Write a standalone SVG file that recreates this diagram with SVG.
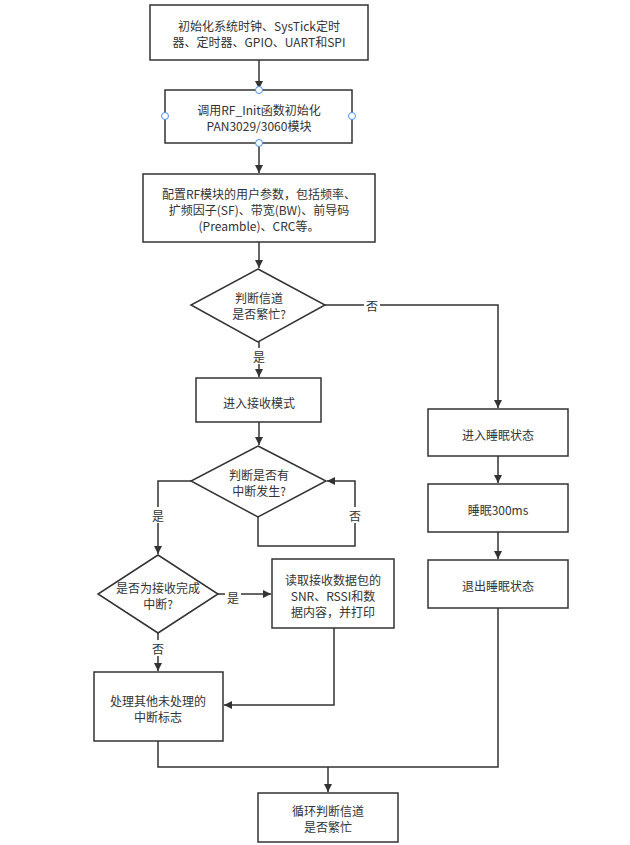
<svg xmlns="http://www.w3.org/2000/svg" width="630" height="845" viewBox="0 0 630 845">
<style>
.box{fill:#fff;stroke:#333;stroke-width:1.5}
.t{font-family:"Noto Sans CJK SC","Noto Sans",sans-serif;font-size:12px;fill:#333;text-anchor:middle;dominant-baseline:central}
.c{fill:none;stroke:#333;stroke-width:1.5}
.lbl{fill:#fff}
.h{fill:#fff;stroke:#4a90e2;stroke-width:1}
</style>
<defs>
<marker id="a" markerWidth="8" markerHeight="8" refX="8" refY="4" orient="auto" markerUnits="userSpaceOnUse">
<path d="M0,0 L8,4 L0,8 Z" fill="#333"/>
</marker>
</defs>
<rect width="630" height="845" fill="#fff"/>
<g id="connectors">
<path class="c" d="M259,60 V89" marker-end="url(#a)"/>
<path class="c" d="M259,143 V173" marker-end="url(#a)"/>
<path class="c" d="M259,242 V268" marker-end="url(#a)"/>
<path class="c" d="M259,342 V377" marker-end="url(#a)"/>
<path class="c" d="M325,305 H498 V408" marker-end="url(#a)"/>
<path class="c" d="M259,422 V445" marker-end="url(#a)"/>
<path class="c" d="M191,481 H158 V554" marker-end="url(#a)"/>
<path class="c" d="M258,517 V546 H355 V481 H327" marker-end="url(#a)"/>
<path class="c" d="M218,594 H271" marker-end="url(#a)"/>
<path class="c" d="M158,633 V671" marker-end="url(#a)"/>
<path class="c" d="M334,628 V705 H224" marker-end="url(#a)"/>
<path class="c" d="M498,456 V483" marker-end="url(#a)"/>
<path class="c" d="M498,532 V559" marker-end="url(#a)"/>
<path class="c" d="M158,741 V767 H498 V608"/>
<path class="c" d="M328,767 V792" marker-end="url(#a)"/>
<rect class="lbl" x="364" y="297" width="16" height="16"/>
<text class="t" x="372" y="305">否</text>
<rect class="lbl" x="251" y="348" width="16" height="16"/>
<text class="t" x="259" y="356">是</text>
<rect class="lbl" x="150" y="507" width="16" height="16"/>
<text class="t" x="158" y="515">是</text>
<rect class="lbl" x="347" y="507" width="16" height="16"/>
<text class="t" x="355" y="515">否</text>
<rect class="lbl" x="225" y="589" width="16" height="16"/>
<text class="t" x="233" y="597">是</text>
<rect class="lbl" x="150" y="640" width="16" height="16"/>
<text class="t" x="158" y="648">否</text>
</g>
<g id="n1">
<rect class="box" x="150" y="5" width="218" height="55"/>
<text class="t" x="259" y="25">初始化系统时钟、SysTick定时</text>
<text class="t" x="259" y="41">器、定时器、GPIO、UART和SPI</text>
</g>
<g id="n2">
<rect class="box" x="165" y="90" width="187" height="53"/>
<text class="t" x="259" y="109">调用RF_Init函数初始化</text>
<text class="t" x="259" y="125">PAN3029/3060模块</text>
<circle class="h" cx="259" cy="90" r="3.5"/>
<circle class="h" cx="259" cy="143" r="3.5"/>
<circle class="h" cx="165" cy="116" r="3.5"/>
<circle class="h" cx="352" cy="116" r="3.5"/>
</g>
<g id="n3">
<rect class="box" x="143" y="174" width="232" height="68"/>
<text class="t" x="259" y="193">配置RF模块的用户参数，包括频率、</text>
<text class="t" x="259" y="209">扩频因子(SF)、带宽(BW)、前导码</text>
<text class="t" x="259" y="225">(Preamble)、CRC等。</text>
</g>
<g id="d1">
<polygon class="box" points="258,269 325,305 258,342 191,305"/>
<text class="t" x="259" y="297">判断信道</text>
<text class="t" x="259" y="313">是否繁忙?</text>
</g>
<g id="n4">
<rect class="box" x="196" y="378" width="125" height="44"/>
<text class="t" x="259" y="402">进入接收模式</text>
</g>
<g id="d2">
<polygon class="box" points="258,446 326,481 258,517 191,481"/>
<text class="t" x="259" y="474">判断是否有</text>
<text class="t" x="259" y="490">中断发生?</text>
</g>
<g id="d3">
<polygon class="box" points="158,555 218,594 158,633 98,594"/>
<text class="t" x="158" y="587">是否为接收完成</text>
<text class="t" x="158" y="603">中断?</text>
</g>
<g id="n5">
<rect class="box" x="272" y="559" width="122" height="69"/>
<text class="t" x="333" y="579">读取接收数据包的</text>
<text class="t" x="333" y="595">SNR、RSSI和数</text>
<text class="t" x="333" y="611">据内容，并打印</text>
</g>
<g id="n6">
<rect class="box" x="94" y="672" width="129" height="69"/>
<text class="t" x="158" y="700">处理其他未处理的</text>
<text class="t" x="158" y="716">中断标志</text>
</g>
<g id="n7">
<rect class="box" x="428" y="409" width="140" height="47"/>
<text class="t" x="498" y="434">进入睡眠状态</text>
</g>
<g id="n8">
<rect class="box" x="428" y="484" width="140" height="48"/>
<text class="t" x="498" y="509">睡眠300ms</text>
</g>
<g id="n9">
<rect class="box" x="428" y="560" width="140" height="48"/>
<text class="t" x="498" y="585">退出睡眠状态</text>
</g>
<g id="n10">
<rect class="box" x="258" y="793" width="140" height="49"/>
<text class="t" x="328" y="810">循环判断信道</text>
<text class="t" x="328" y="826">是否繁忙</text>
</g>
</svg>
